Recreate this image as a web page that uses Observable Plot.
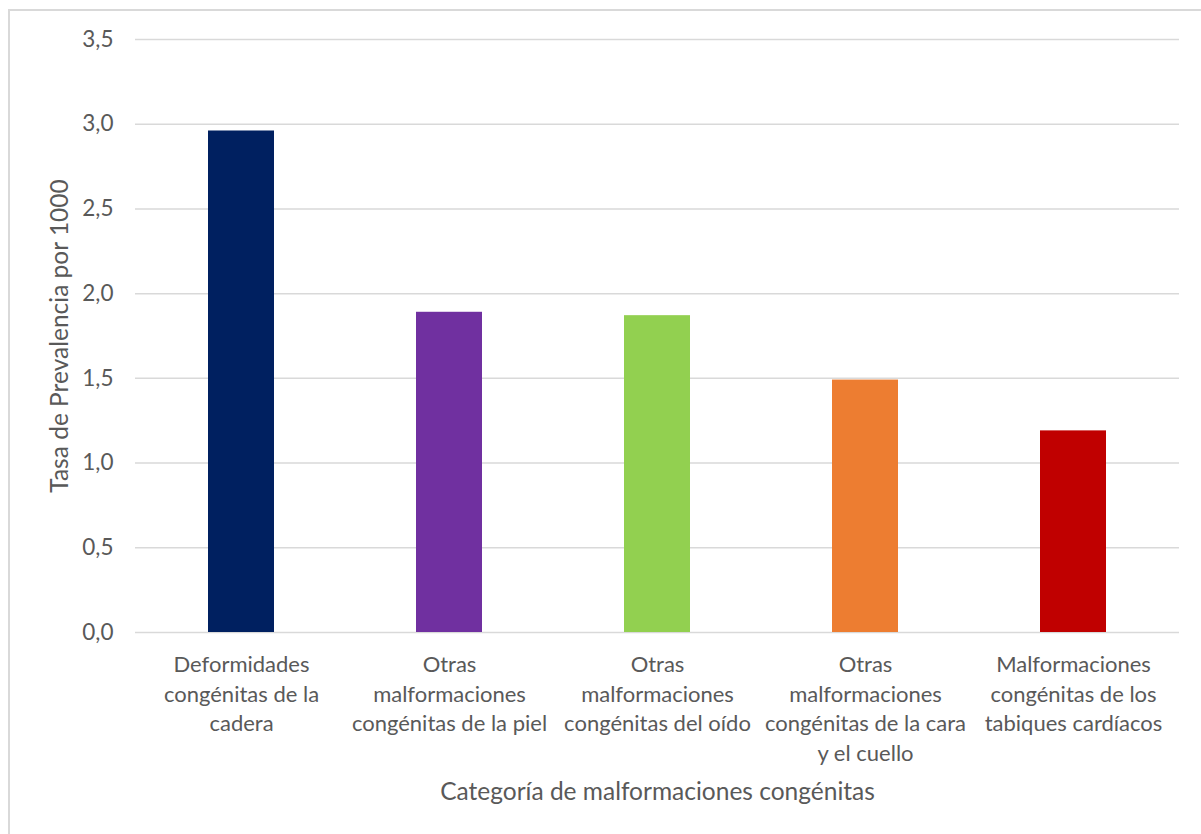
<!DOCTYPE html>
<html>
<head>
<meta charset="utf-8">
<script src="https://cdn.jsdelivr.net/npm/d3@7"></script>
<script src="https://cdn.jsdelivr.net/npm/@observablehq/plot@0.6"></script>
<style>
  html, body { margin: 0; padding: 0; background: #fff; overflow: hidden; }
  #wrap { position: relative; width: 1201px; height: 834px; }
  #frame { position: absolute; left: 8px; top: 9px; width: 1400px; height: 1000px;
           border-left: 2px solid #d9d9d9; border-top: 2px solid #d9d9d9; }
  #chart { position: absolute; left: 0; top: 0; }
</style>
</head>
<body>
<div id="wrap">
  <div id="frame"></div>
  <div id="chart"></div>
</div>
<script>
// Prevalence per 1000 by congenital malformation category
const categories = [
  "Deformidades congénitas de la cadera",
  "Otras malformaciones congénitas de la piel",
  "Otras malformaciones congénitas del oído",
  "Otras malformaciones congénitas de la cara y el cuello",
  "Malformaciones congénitas de los tabiques cardíacos"
];
const labels = [
  "Deformidades\ncongénitas de la\ncadera",
  "Otras\nmalformaciones\ncongénitas de la piel",
  "Otras\nmalformaciones\ncongénitas del oído",
  "Otras\nmalformaciones\ncongénitas de la cara\ny el cuello",
  "Malformaciones\ncongénitas de los\ntabiques cardíacos"
];
const values = [2.96, 1.89, 1.87, 1.49, 1.19];
const colors = ["#002060", "#7030A0", "#92D050", "#ED7D31", "#C00000"];
const yTicks = [0, 0.5, 1.0, 1.5, 2.0, 2.5, 3.0, 3.5];
const yTitle = "Tasa de Prevalencia por 1000";
const xTitle = "Categoría de malformaciones congénitas";

const data = categories.map((c, i) => ({cat: c, label: labels[i], value: values[i], color: colors[i]}));
const fmt = d => d.toFixed(1).replace(".", ",");
const textColor = "#595959";

const chart = Plot.plot({
  width: 1201,
  height: 834,
  marginLeft: 135,
  marginRight: 22,
  marginTop: 39,
  marginBottom: 202,
  style: {fontFamily: "Lato, 'Open Sans', sans-serif", fontSize: "22px", background: "transparent", overflow: "visible"},
  x: {domain: categories, paddingInner: 0.685, paddingOuter: 0.3425, axis: null},
  y: {domain: [0, 3.5], axis: null},
  color: {type: "identity"},
  marks: [
    Plot.gridY(yTicks, {stroke: "#d9d9d9", strokeOpacity: 1, strokeWidth: 1.5}),
    Plot.barY(data, {x: "cat", y: "value", fill: "color"}),
    Plot.axisY(yTicks, {tickSize: 0, tickPadding: 22, tickFormat: fmt, fill: textColor, fontSize: 22.5, label: null}),
    Plot.text(data, {x: "cat", text: "label", frameAnchor: "bottom", lineAnchor: "top", dy: 19, lineHeight: 1.34, fill: textColor, fontSize: 22}),
    Plot.text([xTitle], {frameAnchor: "bottom", lineAnchor: "top", dy: 150, fill: textColor, fontSize: 24.5}),
    Plot.text([yTitle], {frameAnchor: "left", textAnchor: "middle", rotate: -90, dx: -75, fill: textColor, fontSize: 24.5})
  ]
});
document.getElementById("chart").appendChild(chart);
</script>
</body>
</html>
